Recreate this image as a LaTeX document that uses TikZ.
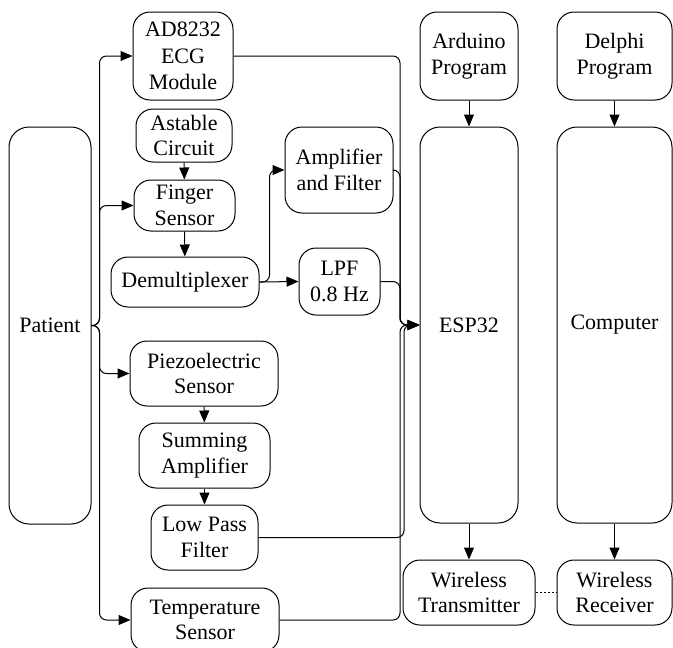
\documentclass[tikz,border=0pt]{standalone}
\usepackage{fontspec}
\setmainfont{Liberation Serif}
\usetikzlibrary{arrows.meta}
\begin{document}
\begin{tikzpicture}[x=1pt,y=-1pt,
  blk/.style={draw,line width=1pt,rounded corners=17pt,align=center,inner sep=0pt,
    font=\fontsize{22}{25.5}\selectfont},
  big/.style={blk,rounded corners=20pt},
  arr/.style={line width=1pt,rounded corners=7pt,-{Triangle[length=12pt,width=10pt]}},
  link/.style={line width=1pt,dash pattern=on 2pt off 2pt}]
\useasboundingbox (0,0) rectangle (673,648);

% left column
\node[big,minimum width=82pt,minimum height=397pt] (patient) at (50,325.5) {Patient};

% sensor chains
\node[blk,minimum width=100pt,minimum height=88pt,font=\fontsize{22}{26.5}\selectfont] (ad) at (183,56) {AD8232\\ECG\\Module};
\node[blk,minimum width=96pt,minimum height=53pt] (astable) at (184,135.5) {Astable\\Circuit};
\node[blk,minimum width=101pt,minimum height=51pt] (finger) at (184.5,205.5) {Finger\\Sensor};
\node[blk,minimum width=148pt,minimum height=50pt] (demux) at (185,282) {Demultiplexer};
\node[blk,minimum width=108pt,minimum height=86pt] (amp) at (339,170) {Amplifier\\and Filter};
\node[blk,minimum width=81pt,minimum height=67pt] (lpf) at (339.5,281.5) {LPF\\0.8 Hz};
\node[blk,minimum width=148pt,minimum height=65pt] (piezo) at (204,373.5) {Piezoelectric\\Sensor};
\node[blk,minimum width=131pt,minimum height=65pt] (summing) at (204.5,455.5) {Summing\\Amplifier};
\node[blk,minimum width=107pt,minimum height=65pt] (lowpass) at (204.5,537.5) {Low Pass\\Filter};
\node[blk,minimum width=148pt,minimum height=64pt] (temp) at (205,620) {Temperature\\Sensor};

% microcontroller side
\node[blk,minimum width=98pt,minimum height=88pt] (arduino) at (469,56) {Arduino\\Program};
\node[big,minimum width=98pt,minimum height=396pt] (esp) at (469,325) {ESP32};
\node[blk,minimum width=132pt,minimum height=65pt] (trans) at (469,592.5) {Wireless\\Transmitter};

% computer side
\node[blk,minimum width=115pt,minimum height=88pt] (delphi) at (614.5,56) {Delphi\\Program};
\node[big,minimum width=115pt,minimum height=396pt] (computer) at (614.5,325) {Computer};
\node[blk,minimum width=115pt,minimum height=65pt] (receiver) at (614.5,592.5) {Wireless\\Receiver};

% junction points in front of the ESP32 input
\coordinate (j) at (400,325);
\coordinate (jb) at (404,325);

% patient to the sensors
\draw[arr] (patient.east) -- ++(8,0) |- (ad.west);
\draw[arr] (patient.east) -- ++(8,0) |- (finger.west);
\draw[arr] (patient.east) -- ++(8,0) |- (piezo.west);
\draw[arr] (patient.east) -- ++(8,0) |- (temp.west);

% chains
\draw[arr] (astable) -- (finger);
\draw[arr] (finger) -- (demux);
\draw[arr] (demux.east) -- (lpf.west);
\draw[arr] (demux.east) -- ++(10,0) |- (amp.west);
\draw[arr] (piezo) -- (summing);
\draw[arr] (summing) -- (lowpass);

% signals into the ESP32
\draw[arr] (ad.east) -| (j) -- (esp.west);
\draw[arr] (amp.east) -| (j) -- (esp.west);
\draw[arr] (lpf.east) -| (j) -- (esp.west);
\draw[arr] (lowpass.east) -| (jb) -- (esp.west);
\draw[arr] (temp.east) -| (j) -- (esp.west);

% programs and radio link
\draw[arr] (arduino) -- (esp);
\draw[arr] (delphi) -- (computer);
\draw[arr] (esp) -- (trans);
\draw[arr] (computer) -- (receiver);
\draw[link] (trans.east) -- (receiver.west);
\end{tikzpicture}
\end{document}
